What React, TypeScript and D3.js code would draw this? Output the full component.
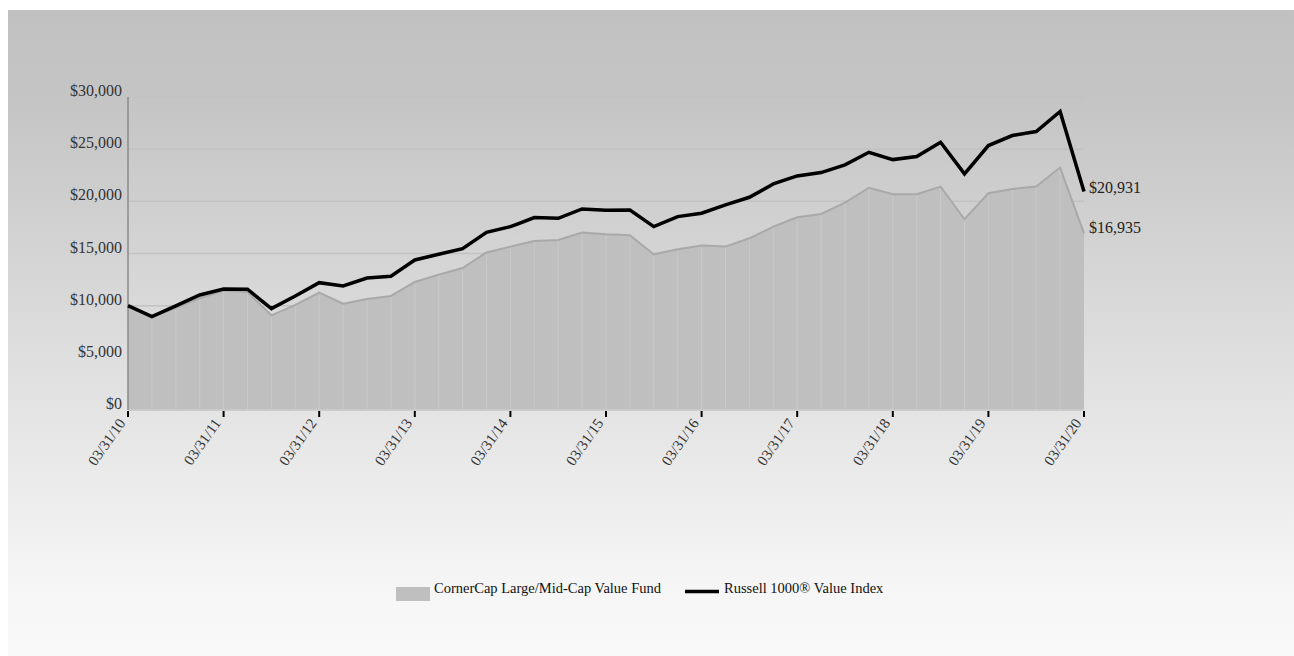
import React from "react";
import * as d3 from "d3";

const tickLabels = ["03/31/10", "03/31/11", "03/31/12", "03/31/13", "03/31/14", "03/31/15", "03/31/16", "03/31/17", "03/31/18", "03/31/19", "03/31/20"];
const yTicks = [0, 5000, 10000, 15000, 20000, 25000, 30000];
const fundName = "CornerCap Large/Mid-Cap Value Fund";
const indexName = "Russell 1000® Value Index";
const fund = [10000, 8900, 9800, 10706, 11440, 11313, 9075, 10067, 11250, 10195, 10642, 10930, 12272, 12975, 13610, 15100, 15660, 16203, 16299, 17002, 16842, 16746, 14923, 15405, 15756, 15660, 16459, 17575, 18472, 18792, 19879, 21300, 20678, 20678, 21412, 18280, 20773, 21189, 21412, 23235, 16935];
const russell = [10000, 8945, 9971, 11026, 11601, 11572, 9713, 10930, 12205, 11889, 12655, 12815, 14380, 14923, 15469, 17035, 17575, 18440, 18376, 19271, 19143, 19175, 17575, 18536, 18856, 19655, 20390, 21668, 22435, 22754, 23490, 24700, 24000, 24290, 25666, 22627, 25347, 26306, 26689, 28609, 20931];

const W = 1286;
const H = 646;
const FONT = "'Liberation Serif', 'Times New Roman', serif";

export default function App() {
  const x = d3.scaleLinear().domain([0, fund.length - 1]).range([120, 1076]);
  const y = d3.scaleLinear().domain([0, 30000]).range([400, 87]);
  const idx = d3.range(fund.length);
  const area = d3.area<number>().x((i) => x(i)).y0(y(0)).y1((i) => y(fund[i]));
  const fundLine = d3.line<number>().x((i) => x(i)).y((i) => y(fund[i]));
  const rusLine = d3.line<number>().x((i) => x(i)).y((i) => y(russell[i]));
  const fmt = (v: number) => "$" + d3.format(",")(v);
  const last = fund.length - 1;
  return (
    <div style={{ position: "fixed", left: 8, top: 10, width: W, height: H, overflow: "hidden" }}>
      <svg width={W} height={H} style={{ display: "block" }} fontFamily={FONT}>
        <defs>
          <linearGradient id="bg" x1="0" y1="0" x2="0" y2="1">
            <stop offset="0" stopColor="#c1c1c1" />
            <stop offset="0.15" stopColor="#c5c5c5" />
            <stop offset="0.62" stopColor="#e4e4e4" />
            <stop offset="0.9" stopColor="#f6f6f6" />
            <stop offset="1" stopColor="#f9f9f9" />
          </linearGradient>
        </defs>
        <rect x={0} y={0} width={W} height={H} fill="url(#bg)" />
        {yTicks.map((t) => (
          <line key={"g" + t} x1={120} x2={1076} y1={y(t)} y2={y(t)} stroke="#c2c2c2" strokeWidth={1.5} />
        ))}
        <path d={area(idx) || ""} fill="#bfbfbf" />
        {idx.slice(1, last).map((i) => (
          <line key={"v" + i} x1={x(i)} x2={x(i)} y1={y(0)} y2={y(fund[i]) + 1} stroke="#c9c9c9" strokeWidth={1} />
        ))}
        <path d={fundLine(idx) || ""} fill="none" stroke="#a9a9a9" strokeWidth={2} />
        <line x1={120} x2={1076} y1={y(0)} y2={y(0)} stroke="#cccccc" strokeWidth={1.5} />
        <line x1={120} x2={120} y1={y(30000)} y2={y(0)} stroke="#8a8a8a" strokeWidth={1.5} />
        <path d={rusLine(idx) || ""} fill="none" stroke="#000" strokeWidth={3.5} strokeLinejoin="miter" />
        {yTicks.map((t) => (
          <text key={"l" + t} x={114} y={y(t) - 1} textAnchor="end" fontSize={16} fill="#333">{fmt(t)}</text>
        ))}
        {tickLabels.map((lab, k) => {
          const tx = x(k * 4);
          return (
            <g key={lab}>
              <line x1={tx} x2={tx} y1={y(0) + 1} y2={y(0) + 7} stroke="#000" strokeWidth={2} />
              <text transform={`translate(${tx - 2},${y(0) + 13}) rotate(-55)`} textAnchor="end" fontSize={15} fill="#333">{lab}</text>
            </g>
          );
        })}
        <text x={x(last) + 5} y={y(russell[last]) + 1} fontSize={16} fill="#222">{fmt(russell[last])}</text>
        <text x={x(last) + 5} y={y(fund[last])} fontSize={16} fill="#222">{fmt(fund[last])}</text>
        <rect x={388} y={577} width={34} height={14} fill="#bfbfbf" />
        <text x={426} y={583} fontSize={14.5} fill="#111">{fundName}</text>
        <line x1={677} x2={711} y1={581.5} y2={581.5} stroke="#000" strokeWidth={3.5} />
        <text x={716} y={583} fontSize={14.5} fill="#111">{indexName}</text>
      </svg>
    </div>
  );
}
